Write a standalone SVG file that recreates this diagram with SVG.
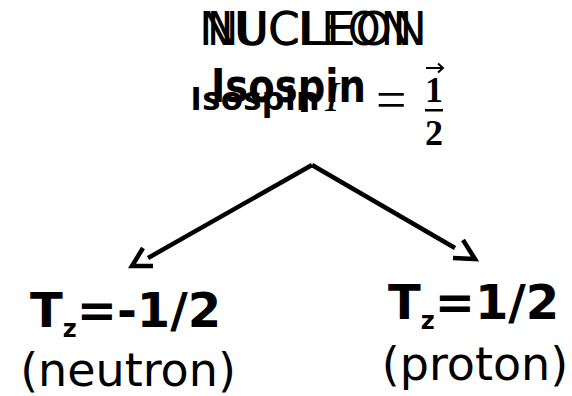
<svg xmlns="http://www.w3.org/2000/svg" width="572" height="396" viewBox="0 0 572 396">
<style>
.title{font-family:"DejaVu Sans",sans-serif;font-size:46px;fill:#000}
.bold{font-family:"DejaVu Sans",sans-serif;font-weight:bold;fill:#000}
.reg{font-family:"DejaVu Sans",sans-serif;fill:#000}
.math{font-family:"Liberation Serif",serif;fill:#000}
.conn{stroke:#000;stroke-width:4.5;fill:none}
</style>
<rect width="572" height="396" fill="#fff"/>
<g id="nucleon">
<text class="title" x="199" y="45" textLength="228" lengthAdjust="spacingAndGlyphs">NUCLEON</text>
<text class="title" x="207" y="45" textLength="205" lengthAdjust="spacingAndGlyphs">NUCLEON</text>
<text class="bold" x="211" y="102" font-size="47" textLength="155" lengthAdjust="spacingAndGlyphs">Isospin</text>
<text font-family="'Open Sans',sans-serif" font-weight="bold" font-size="32" x="190" y="110" textLength="130" lengthAdjust="spacingAndGlyphs">Isospin</text>
<text class="math" font-style="italic" font-size="42" x="325" y="111">I</text>
<text class="math" font-size="54" x="376" y="118">=</text>
<text class="math" font-weight="bold" font-size="36" x="434" y="102" text-anchor="middle">1</text>
<path d="M426 68 H443 M438 63.5 L443 68 L438 72.5" stroke="#000" stroke-width="2" fill="none"/>
<rect x="425" y="109" width="18" height="2.5"/>
<text class="math" font-weight="bold" font-size="36" x="434" y="145" text-anchor="middle">2</text>
</g>
<g id="neutron">
<text class="bold" x="30" y="327" font-size="48">T<tspan font-size="24" dy="10">z</tspan><tspan dy="-10">=-1/2</tspan></text>
<text class="reg" x="128" y="386" font-size="46" text-anchor="middle">(neutron)</text>
</g>
<g id="proton">
<text class="bold" x="388" y="319" font-size="48">T<tspan font-size="24" dy="10">z</tspan><tspan dy="-10">=1/2</tspan></text>
<text class="reg" x="475" y="380" font-size="46" text-anchor="middle">(proton)</text>
</g>
<g id="connectors">
<path class="conn" d="M312 165 L148 258"/>
<path class="conn" d="M143 248 L132 266 L153 266"/>
<path class="conn" d="M312 165 L455 248"/>
<path class="conn" d="M463 240 L475 259 L453 258"/>
</g>
</svg>
